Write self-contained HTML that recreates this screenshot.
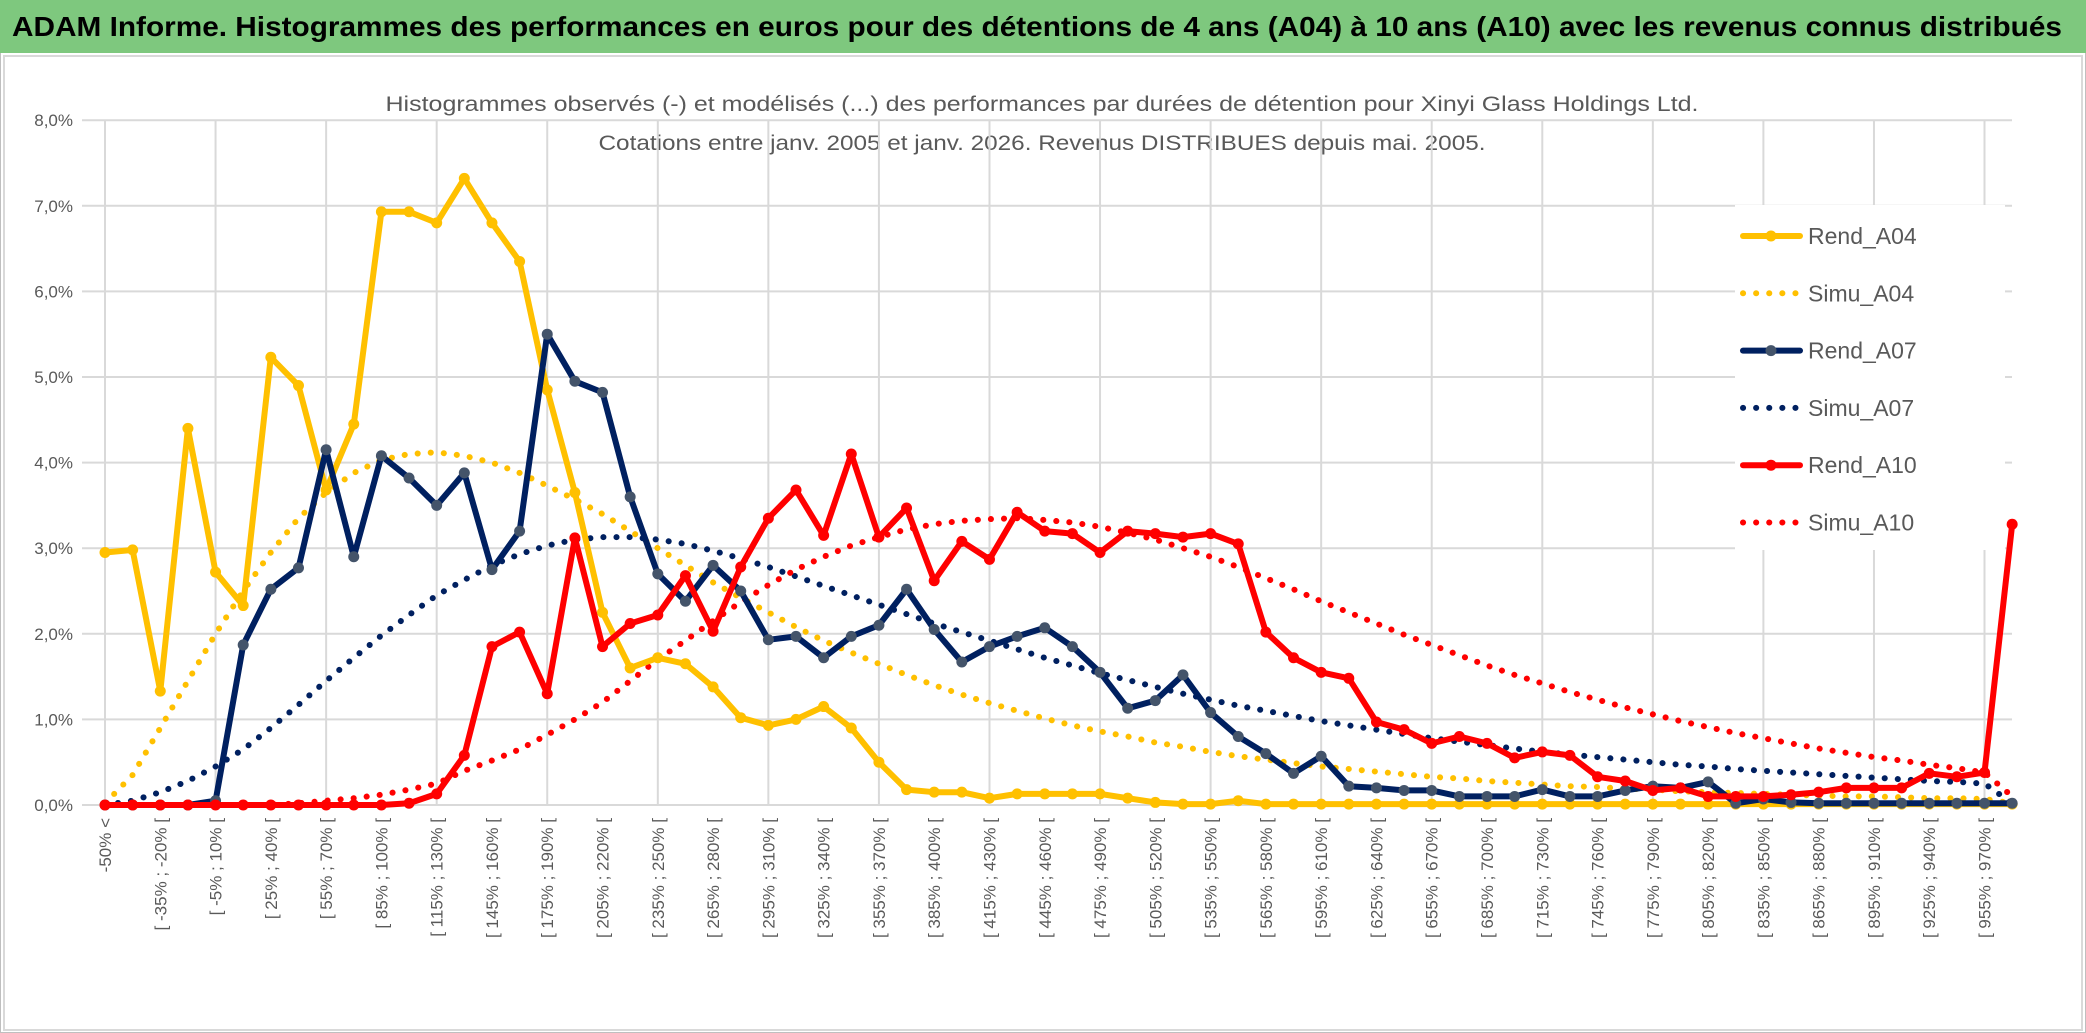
<!DOCTYPE html>
<html><head><meta charset="utf-8"><style>
html,body{margin:0;padding:0;background:#fff;}
svg{display:block;font-family:"Liberation Sans",sans-serif;}
</style></head><body>
<svg id="chart" width="2086" height="1033" viewBox="0 0 2086 1033">
<rect x="0" y="0" width="2086" height="1033" fill="#ffffff"/>
<rect x="0.5" y="0.5" width="2085" height="1032" fill="none" stroke="#bfbfbf"/>
<rect x="0" y="0" width="2086" height="53" fill="#7ec87e"/>
<text x="12" y="36" font-size="28" font-weight="bold" fill="#000" textLength="2050" lengthAdjust="spacingAndGlyphs">ADAM Informe. Histogrammes des performances en euros pour des détentions de 4 ans (A04) à 10 ans (A10) avec les revenus connus distribués</text>
<rect x="4" y="56" width="2078" height="974" fill="none" stroke="#d9d9d9" stroke-width="2"/>
<text x="1042" y="111" font-size="21" fill="#595959" text-anchor="middle" textLength="1313" lengthAdjust="spacingAndGlyphs">Histogrammes observés (-) et modélisés (...) des performances par durées de détention pour Xinyi Glass Holdings Ltd.</text>
<text x="1042" y="150" font-size="21" fill="#595959" text-anchor="middle" textLength="887" lengthAdjust="spacingAndGlyphs">Cotations entre janv. 2005 et janv. 2026. Revenus DISTRIBUES depuis mai. 2005.</text>
<g id="grid"></g><g id="yaxis"></g><g id="xaxis"></g><g id="series"></g><g id="legend"></g>
</svg>
<script>
const categories = ["-50% <"];
for (let a = -50; a < 970; a += 15) categories.push("[ " + a + "% ; " + (a + 15) + "% [");
categories.push("> 970%");
const yTicks = [0,1,2,3,4,5,6,7,8];
const rendA04 = [2.95,2.98,1.33,4.4,2.72,2.33,5.23,4.9,3.68,4.45,6.93,6.93,6.8,7.32,6.8,6.35,4.85,3.65,2.25,1.6,1.72,1.65,1.38,1.02,0.93,1.0,1.15,0.9,0.5,0.18,0.15,0.15,0.08,0.13,0.13,0.13,0.13,0.08,0.03,0.01,0.01,0.05,0.01,0.01,0.01,0.01,0.01,0.01,0.01,0.01,0.01,0.01,0.01,0.01,0.01,0.01,0.01,0.01,0.01,0.01,0.01,0.01,0.01,0.01,0.01,0.01,0.01,0.01,0.01,0.01];
const simuA04 = [0.02,0.35,0.9,1.45,2.0,2.5,2.95,3.35,3.65,3.88,4.03,4.1,4.12,4.08,4.0,3.88,3.73,3.57,3.4,3.2,3.0,2.8,2.6,2.42,2.25,2.08,1.92,1.78,1.65,1.52,1.4,1.29,1.19,1.1,1.01,0.93,0.86,0.8,0.73,0.68,0.62,0.57,0.53,0.49,0.45,0.42,0.39,0.36,0.33,0.31,0.28,0.26,0.24,0.22,0.21,0.19,0.18,0.16,0.15,0.14,0.13,0.12,0.11,0.1,0.1,0.09,0.08,0.08,0.07,0.02];
const rendA07 = [0,0,0,0,0.05,1.87,2.52,2.77,4.15,2.9,4.08,3.82,3.5,3.88,2.75,3.2,5.5,4.95,4.82,3.6,2.7,2.38,2.8,2.5,1.93,1.97,1.72,1.97,2.1,2.52,2.05,1.67,1.85,1.97,2.07,1.85,1.55,1.13,1.22,1.52,1.08,0.8,0.6,0.37,0.57,0.22,0.2,0.17,0.17,0.1,0.1,0.1,0.18,0.1,0.1,0.17,0.22,0.2,0.27,0.02,0.07,0.03,0.02,0.02,0.02,0.02,0.02,0.02,0.02,0.02];
const simuA07 = [0,0.05,0.15,0.28,0.45,0.65,0.9,1.17,1.45,1.72,1.98,2.22,2.45,2.63,2.8,2.93,3.03,3.1,3.13,3.13,3.1,3.05,2.97,2.88,2.78,2.67,2.56,2.45,2.34,2.23,2.12,2.02,1.92,1.82,1.72,1.63,1.54,1.46,1.38,1.3,1.23,1.16,1.1,1.04,0.98,0.93,0.88,0.83,0.78,0.74,0.7,0.66,0.62,0.59,0.56,0.53,0.5,0.47,0.45,0.42,0.4,0.38,0.36,0.34,0.32,0.3,0.28,0.27,0.25,0.02];
const rendA10 = [0,0,0,0,0,0,0,0,0,0,0,0.02,0.13,0.58,1.85,2.02,1.3,3.12,1.85,2.12,2.22,2.68,2.03,2.78,3.35,3.68,3.15,4.1,3.13,3.47,2.62,3.08,2.87,3.42,3.2,3.17,2.95,3.2,3.17,3.13,3.17,3.05,2.02,1.72,1.55,1.48,0.97,0.88,0.72,0.8,0.72,0.55,0.62,0.58,0.33,0.28,0.17,0.2,0.1,0.1,0.1,0.12,0.15,0.2,0.2,0.2,0.37,0.33,0.38,3.28];
const simuA10 = [0,0,0,0,0,0,0,0.02,0.05,0.08,0.12,0.18,0.25,0.4,0.52,0.65,0.82,1.0,1.2,1.45,1.7,1.92,2.15,2.37,2.57,2.75,2.9,3.03,3.13,3.22,3.28,3.32,3.34,3.35,3.33,3.3,3.25,3.18,3.1,3.0,2.9,2.78,2.65,2.52,2.38,2.25,2.12,1.99,1.87,1.75,1.63,1.52,1.42,1.32,1.23,1.14,1.06,0.98,0.91,0.84,0.78,0.72,0.66,0.61,0.56,0.52,0.47,0.43,0.38,0.1];
const seriesNames = ["Rend_A04","Simu_A04","Rend_A07","Simu_A07","Rend_A10","Simu_A10"];

const NS = "http://www.w3.org/2000/svg";
const X0 = 105, DX = 27.64, Y0 = 805, DY = 85.6, PL = 82, PR = 2012;
function xScale(i){ return X0 + i * DX; }
function yScale(v){ return Y0 - v * DY; }
function mk(tag, attrs, parent){ const e = document.createElementNS(NS, tag); for (const k in attrs) e.setAttribute(k, attrs[k]); parent.appendChild(e); return e; }

const grid = document.getElementById('grid');
yTicks.forEach(t => {
  const l = mk('line', {x1: PL, x2: PR, y1: yScale(t), y2: yScale(t), stroke: '#d9d9d9', 'stroke-width': 2}, grid);
  
  
});
for (let i = 0; i < categories.length; i += 4) {
  const l = mk('line', {x1: xScale(i), x2: xScale(i), y1: yScale(8), y2: yScale(0), stroke: '#d9d9d9', 'stroke-width': 2}, grid);
  
  
}
const yax = document.getElementById('yaxis');
yTicks.forEach(t => {
  const tx = mk('text', {x: 73, y: yScale(t) + 6, 'font-size': 17, fill: '#595959', 'text-anchor': 'end'}, yax);
  tx.textContent = t.toFixed(1).replace('.', ',') + '%';
  
  
});
const xax = document.getElementById('xaxis');
categories.forEach((c, i) => {
  if (i % 2 !== 0) return;
  const x = xScale(i) + 6, y = 818;
  const tx = mk('text', {x: x, y: y, 'font-size': 17, fill: '#595959', 'text-anchor': 'end', transform: 'rotate(-90 ' + x + ' ' + y + ')'}, xax);
  tx.textContent = c;
  
  
});

const ser = document.getElementById('series');
function pathOf(arr){ return arr.map((v, i) => (i ? 'L' : 'M') + xScale(i).toFixed(1) + ' ' + yScale(v).toFixed(1)).join(' '); }
function dotted(arr, color, name){
  const p = mk('path', {d: pathOf(arr), fill: 'none', stroke: color, 'stroke-width': 6, 'stroke-linecap': 'round', 'stroke-dasharray': '0.1 13'}, ser);
  
  
}
function solid(arr, color, mcolor, name){
  const p = mk('path', {d: pathOf(arr), fill: 'none', stroke: color, 'stroke-width': 6, 'stroke-linejoin': 'round'}, ser);
  
  
  arr.forEach((v, i) => {
    const c = mk('circle', {cx: xScale(i), cy: yScale(v), r: 5.5, fill: mcolor}, ser);
    
    
  });
}
dotted(simuA04, '#FFC000', 'simu-a04-line');
dotted(simuA07, '#002060', 'simu-a07-line');
dotted(simuA10, '#FF0000', 'simu-a10-line');
solid(rendA04, '#FFC000', '#FFC000', 'rend-a04-line');
solid(rendA07, '#002060', '#44546A', 'rend-a07-line');
solid(rendA10, '#FF0000', '#FF0000', 'rend-a10-line');

const leg = document.getElementById('legend');
const lbg = mk('rect', {x: 1735, y: 205, width: 270, height: 345, fill: '#fff'}, leg);


const legColors = ['#FFC000','#FFC000','#002060','#002060','#FF0000','#FF0000'];
const legMarkers = ['#FFC000',null,'#44546A',null,'#FF0000',null];
seriesNames.forEach((n, k) => {
  const y = 236 + k * 57.3;
  const g = mk('g', {}, leg);
  
  
  if (legMarkers[k]) {
    mk('line', {x1: 1743, x2: 1800, y1: y, y2: y, stroke: legColors[k], 'stroke-width': 6, 'stroke-linecap': 'round'}, g);
    mk('circle', {cx: 1771, cy: y, r: 5.5, fill: legMarkers[k]}, g);
  } else {
    mk('line', {x1: 1743, x2: 1800, y1: y, y2: y, stroke: legColors[k], 'stroke-width': 6, 'stroke-linecap': 'round', 'stroke-dasharray': '0.1 13'}, g);
  }
  const t = mk('text', {x: 1808, y: y + 8, 'font-size': 23, fill: '#595959'}, g);
  t.textContent = n;
});
</script>
</body></html>
